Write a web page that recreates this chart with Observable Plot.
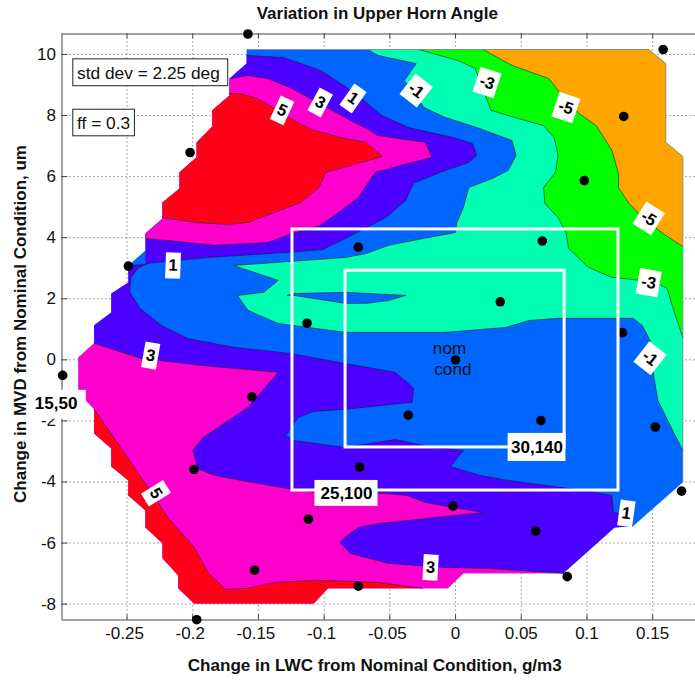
<!DOCTYPE html>
<html>
<head>
<meta charset="utf-8">
<script src="https://cdn.jsdelivr.net/npm/d3@7"></script>
<script src="https://cdn.jsdelivr.net/npm/@observablehq/plot@0.6"></script>
<style>html,body{margin:0;padding:0;background:#fff}svg{display:block}</style>
</head>
<body>
<div id="chart"></div>
<script>
const xTicks = [-0.25,-0.2,-0.15,-0.1,-0.05,0,0.05,0.1,0.15];
const yTicks = [-8,-6,-4,-2,0,2,4,6,8,10];
const xDomain = [-0.2995,0.1826];
const yDomain = [-8.52,10.67];

const topRightEdge = [[0.147,10.16],[0.160,9.70],[0.160,7.12],[0.173,6.66]];
const rightEdgeLow = [[0.173,-4.01],[0.135,-5.45],[0.121,-5.49],[0.082,-6.99]];
const bottomEdge = [[0.006,-6.99],[-0.006,-7.48],[-0.097,-7.48]];
const lowerStairs = [[-0.108,-7.98],[-0.199,-7.98],[-0.211,-7.48],[-0.211,-7.06],[-0.223,-6.50],[-0.223,-6.01],[-0.236,-5.49],[-0.236,-4.93],[-0.249,-4.44],[-0.249,-3.95],[-0.262,-3.49],[-0.262,-2.90],[-0.275,-2.41]];
const leftEdge = [[-0.275,-1.62],[-0.287,-1.07],[-0.287,0.08],[-0.275,0.54]];
const wedgeStairs = [[-0.275,1.13],[-0.262,1.55],[-0.262,2.17],[-0.249,2.53],[-0.249,3.09]];
const patchStairs = [[-0.236,3.58],[-0.236,4.14]];
const upperStairs = [[-0.223,4.63],[-0.223,5.15],[-0.210,5.61],[-0.210,6.14],[-0.197,6.63],[-0.197,7.12],[-0.185,7.64],[-0.185,8.17],[-0.172,8.66],[-0.172,9.21],[-0.159,9.70],[-0.159,10.16]];

const lineMinus5 = [[0.021,10.16],[0.043,9.64],[0.071,9.21],[0.078,8.82],[0.094,8.07],[0.107,7.67],[0.119,6.86],[0.124,6.10],[0.124,5.64],[0.132,5.12],[0.145,4.56],[0.160,4.07],[0.173,3.71]];
const lineMinus3 = [[-0.028,10.16],[0.002,9.80],[0.015,9.54],[0.021,8.82],[0.027,8.17],[0.048,7.90],[0.067,7.67],[0.075,7.28],[0.078,6.69],[0.076,6.14],[0.067,5.64],[0.068,5.12],[0.078,4.66],[0.084,4.17],[0.086,3.65],[0.101,3.03],[0.119,2.70],[0.135,2.63],[0.152,2.53],[0.161,2.34],[0.166,1.62],[0.173,0.73]];
const lineMinus1 = [[-0.067,10.16],[-0.059,9.97],[-0.030,9.70],[-0.039,9.15],[-0.024,8.26],[-0.008,7.94],[0.018,7.58],[0.043,7.18],[0.046,6.69],[0.040,6.20],[0.028,5.94],[0.010,5.64],[0.006,4.99],[0.001,4.50],[0,4.17],[-0.025,3.97],[-0.051,3.75],[-0.068,3.48],[-0.084,3.35],[-0.169,3.09],[-0.135,2.60],[-0.146,2.21],[-0.166,2.11],[-0.158,1.62],[-0.135,1.19],[-0.084,0.90],[-0.008,0.90],[0.038,1.06],[0.056,1.29],[0.078,1.36],[0.135,1.36],[0.142,1.13],[0.148,0.64],[0.151,-0.58],[0.154,-1.33],[0.164,-2.21],[0.173,-2.97]];
const island = [[-0.128,2.11],[-0.123,2.17],[-0.084,2.21],[-0.066,2.17],[-0.038,2.11],[-0.051,1.94],[-0.068,1.85],[-0.084,1.85],[-0.123,2.11],[-0.128,2.11]];
const linePlus1Upper = [[-0.159,9.97],[-0.131,9.90],[-0.103,9.48],[-0.084,8.95],[-0.068,8.43],[-0.056,8.00],[-0.036,7.61],[-0.002,7.28],[0.013,7.08],[0.016,6.69],[0.010,6.46],[-0.008,6.20],[-0.032,5.78],[-0.038,5.22],[-0.053,4.66],[-0.068,4.33],[-0.084,3.97],[-0.101,3.61],[-0.126,3.52],[-0.189,3.35],[-0.234,3.16],[-0.236,3.12]];
const linePlus1Lower = [[-0.249,3.09],[-0.236,3.12],[-0.234,3.16],[-0.242,2.99],[-0.247,2.70],[-0.248,2.21],[-0.240,1.68],[-0.224,1.13],[-0.204,0.70],[-0.169,0.41],[-0.126,0.21],[-0.084,-0.12],[-0.046,-0.41],[-0.036,-0.77],[-0.032,-0.94],[-0.033,-1.39],[-0.084,-1.62],[-0.108,-1.69],[-0.120,-1.89],[-0.129,-2.48],[-0.123,-2.64],[-0.084,-2.87],[-0.046,-2.61],[-0.021,-2.84],[0.006,-2.97],[-0.004,-3.49],[0.018,-3.78],[0.040,-3.95],[0.091,-4.24],[0.119,-4.44],[0.120,-5.00],[0.126,-5.03],[0.135,-5.45]];
const linePlus3Upper = [[-0.171,9.21],[-0.158,9.31],[-0.143,9.21],[-0.126,8.92],[-0.105,8.43],[-0.080,7.84],[-0.068,7.58],[-0.059,7.35],[-0.023,7.12],[-0.018,6.63],[-0.036,6.43],[-0.061,6.14],[-0.074,5.32],[-0.084,4.99],[-0.103,4.40],[-0.124,4.14],[-0.143,3.84],[-0.184,3.75],[-0.219,3.91],[-0.236,3.97]];
const linePlus5Upper = [[-0.172,8.72],[-0.164,8.72],[-0.151,8.56],[-0.138,8.23],[-0.123,7.84],[-0.108,7.51],[-0.084,7.25],[-0.068,7.12],[-0.056,6.66],[-0.080,6.36],[-0.099,6.14],[-0.104,5.64],[-0.118,5.15],[-0.158,4.50],[-0.173,4.43],[-0.199,4.50],[-0.223,4.66]];
const linePlus3Lower = [[-0.275,0.54],[-0.240,0.05],[-0.194,-0.18],[-0.135,-0.41],[-0.158,-1.56],[-0.192,-2.54],[-0.200,-2.97],[-0.196,-3.56],[-0.184,-3.78],[-0.163,-3.95],[-0.128,-4.21],[-0.107,-4.34],[-0.056,-4.37],[-0.037,-4.44],[-0.023,-4.67],[-0.002,-4.83],[0.021,-5.00],[-0.015,-5.16],[-0.059,-5.36],[-0.074,-5.49],[-0.084,-5.81],[-0.088,-5.98],[-0.080,-6.34],[-0.051,-6.67],[-0.008,-6.80],[0.025,-6.83],[0.082,-6.99]];
const linePlus5Lower = [[-0.275,-1.62],[-0.255,-2.87],[-0.234,-4.18],[-0.219,-5.16],[-0.199,-6.14],[-0.188,-6.99],[-0.175,-7.52],[-0.158,-7.48],[-0.138,-7.29],[-0.105,-7.22],[-0.059,-7.29],[-0.025,-7.48]];

const pointsX = [-0.158,-0.202,-0.249,-0.299,-0.155,-0.199,-0.112,-0.153,-0.197,-0.113,-0.074,0.066,0.034,0.128,0.098,0.158,0.127,0,-0.036,0.065,0.152,0.172,0.061,0.085,-0.002,-0.073,-0.074];
const pointsY = [10.67,6.79,3.07,-0.51,-1.21,-3.59,-5.22,-6.89,-8.51,1.20,3.69,3.89,1.90,7.97,5.87,10.16,0.89,0,-1.81,-1.99,-2.20,-4.30,-5.61,-7.10,-4.79,-3.51,-7.41];

const labelText = ["5","3","1","-1","-3","-5","-5","-3","-1","1","3","5","3","1"];
const labelX = [-0.132,-0.103,-0.078,-0.030,0.024,0.084,0.147,0.147,0.148,-0.215,-0.232,-0.228,-0.019,0.130];
const labelY = [8.17,8.43,8.56,8.82,9.08,8.26,4.63,2.53,0.05,3.09,0.14,-4.37,-6.80,-5.03];
const labelTilt = [25,28,35,38,18,18,32,10,38,2,10,58,3,8];

const title = "Variation in Upper Horn Angle";
const xTitle = "Change in LWC from Nominal Condition, g/m3";
const yTitle = "Change in MVD from Nominal Condition, um";

const colors = {red:"#ff0018",magenta:"#ff00cc",violet:"#4c00ff",blue:"#0066ff",aqua:"#00ffb2",green:"#00ff00",orange:"#ffa500"};

const rev = a => a.slice().reverse();
const domainShape = [[-0.159,10.16],...topRightEdge,...rightEdgeLow,...bottomEdge,...lowerStairs,...leftEdge,...wedgeStairs,...patchStairs,...upperStairs];
const regions = [
  {c:colors.blue, p:domainShape},
  {c:colors.aqua, p:[...lineMinus1,...rev(topRightEdge)]},
  {c:colors.blue, p:island},
  {c:colors.green, p:[...lineMinus3,...rev(topRightEdge)]},
  {c:colors.orange, p:[...lineMinus5,...rev(topRightEdge)]},
  {c:colors.violet, p:[...linePlus1Upper,...patchStairs.slice(1),...upperStairs.slice(0,-1)]},
  {c:colors.magenta, p:[...linePlus3Upper,...patchStairs.slice(1),...upperStairs.slice(0,-2)]},
  {c:colors.red, p:[...linePlus5Upper,...upperStairs.slice(1,-3)]},
  {c:colors.violet, p:[...linePlus1Lower,[0.121,-5.49],[0.082,-6.99],...rev(linePlus3Lower),...wedgeStairs]},
  {c:colors.magenta, p:[...linePlus3Lower,...bottomEdge,...lowerStairs,...leftEdge]},
  {c:colors.red, p:[...linePlus5Lower,...bottomEdge.slice(2),...lowerStairs]}
];
const contours = [lineMinus5,lineMinus3,lineMinus1,island,linePlus1Upper,linePlus1Lower,linePlus3Upper,linePlus5Upper,linePlus3Lower,linePlus5Lower];

const points = pointsX.map((x,i)=>({x,y:pointsY[i]}));
const labels = labelText.map((t,i)=>({t,x:labelX[i],y:labelY[i],tilt:labelTilt[i]}));
const chip = (w,h)=>({draw(ctx){ctx.rect(-w/2,-h/2,w,h);}});
const FONT = "Liberation Sans, Arial, sans-serif";
const axisColor = "#444";

const marks = [
  Plot.gridX(xTicks,{stroke:"#555",strokeOpacity:1,strokeDasharray:"1,3",strokeWidth:1}),
  Plot.gridY(yTicks,{stroke:"#555",strokeOpacity:1,strokeDasharray:"1,3",strokeWidth:1}),
  ...regions.map(r=>Plot.line(r.p,{x:"0",y:"1",fill:r.c,stroke:"none"})),
  ...contours.map(l=>Plot.line(l,{x:"0",y:"1",stroke:"#1a1a2a",strokeWidth:0.6})),
  Plot.line([...topRightEdge,[0.173,-4.01]],{x:"0",y:"1",stroke:"#888",strokeWidth:0.8}),
  Plot.line([[-0.159,10.16],[0.147,10.16]],{x:"0",y:"1",stroke:"#888",strokeWidth:0.8}),
  Plot.ruleY([yDomain[1],yDomain[0]],{stroke:axisColor,strokeWidth:1}),
  Plot.ruleX([xDomain[0]],{stroke:axisColor,strokeWidth:1}),
  Plot.ruleX(xTicks,{y1:yDomain[0],y2:yDomain[0]+0.16,stroke:axisColor}),
  Plot.ruleX(xTicks,{y1:yDomain[1],y2:yDomain[1]-0.16,stroke:axisColor}),
  Plot.ruleY(yTicks,{x1:xDomain[0],x2:xDomain[0]+0.0045,stroke:axisColor}),
  Plot.axisX(xTicks.filter(d=>d<0),{tickSize:0,tickPadding:7,dx:-2.5,label:null,tickFormat:d=>String(d),fontSize:17,fill:"#111"}),
  Plot.axisX(xTicks.filter(d=>d>=0),{tickSize:0,tickPadding:7,label:null,tickFormat:d=>String(d),fontSize:17,fill:"#111"}),
  Plot.axisY(yTicks,{tickSize:0,tickPadding:6,label:null,tickFormat:d=>String(d),fontSize:17,fill:"#111"}),
  Plot.dot(points,{x:"x",y:"y",r:4.8,fill:"#000",stroke:"none"}),
  Plot.rect([{x1:-0.1241,x2:0.124,y1:-4.28,y2:4.27}],{x1:"x1",x2:"x2",y1:"y1",y2:"y2",fill:"none",stroke:"#fff",strokeWidth:3}),
  Plot.rect([{x1:-0.0837,x2:0.083,y1:-2.87,y2:2.92}],{x1:"x1",x2:"x2",y1:"y1",y2:"y2",fill:"none",stroke:"#fff",strokeWidth:3}),
  Plot.rect([{x1:-0.107,x2:-0.059,y1:-4.80,y2:-3.95},{x1:0.040,x2:0.084,y1:-3.33,y2:-2.41},{x1:-0.320,x2:-0.281,y1:-1.95,y2:-1.00}],{x1:"x1",x2:"x2",y1:"y1",y2:"y2",fill:"#fff",stroke:"none"}),
  Plot.text([{t:"25,100",x:-0.083,y:-4.37},{t:"30,140",x:0.062,y:-2.87},{t:"15,50",x:-0.304,y:-1.43}],{x:"x",y:"y",text:"t",fontSize:17,fontWeight:"bold",fill:"#000"}),
  Plot.dot(labels.filter(d=>d.t.length==1),{x:"x",y:"y",rotate:"tilt",symbol:chip(15,26),r:10,fill:"#fff",stroke:"none"}),
  Plot.dot(labels.filter(d=>d.t.length>1),{x:"x",y:"y",rotate:"tilt",symbol:chip(22,26),r:10,fill:"#fff",stroke:"none"}),
  Plot.text(labels,{x:"x",y:"y",text:"t",rotate:"tilt",fontSize:16.5,fontWeight:"bold",fill:"#000"}),
  Plot.rect([{x1:-0.2909,x2:-0.173,y1:8.96,y2:9.84},{x1:-0.2909,x2:-0.2440,y1:7.32,y2:8.19}],{x1:"x1",x2:"x2",y1:"y1",y2:"y2",fill:"#fff",stroke:"#222",strokeWidth:1}),
  Plot.text([{t:"std dev = 2.25 deg",x:-0.288,y:9.39},{t:"ff = 0.3",x:-0.288,y:7.75}],{x:"x",y:"y",text:"t",textAnchor:"start",fontSize:17.3,fill:"#111"}),
  Plot.text([{t:"nom",x:-0.0045,y:0.37},{t:"cond",x:-0.002,y:-0.31}],{x:"x",y:"y",text:"t",fontSize:17.3,fill:"#111"}),
  Plot.text([title],{frameAnchor:"top",dx:-1.5,dy:-27,fontSize:17,fontWeight:"bold",fill:"#111"}),
  Plot.text([xTitle],{frameAnchor:"bottom",dx:-4,dy:51,fontSize:17.1,fontWeight:"bold",fill:"#111"}),
  Plot.text([yTitle],{frameAnchor:"left",textAnchor:"middle",rotate:-90,dx:-41.5,dy:-3,fontSize:17,fontWeight:"bold",fill:"#111"})
];

const chart = Plot.plot({
  width:695,height:680,marginLeft:61.5,marginRight:0,marginTop:33.5,marginBottom:60.5,
  style:{fontFamily:FONT,background:"#fff",overflow:"visible"},
  x:{domain:xDomain,axis:null},
  y:{domain:yDomain,axis:null},
  marks
});
document.getElementById("chart").appendChild(chart);
</script>
</body>
</html>
